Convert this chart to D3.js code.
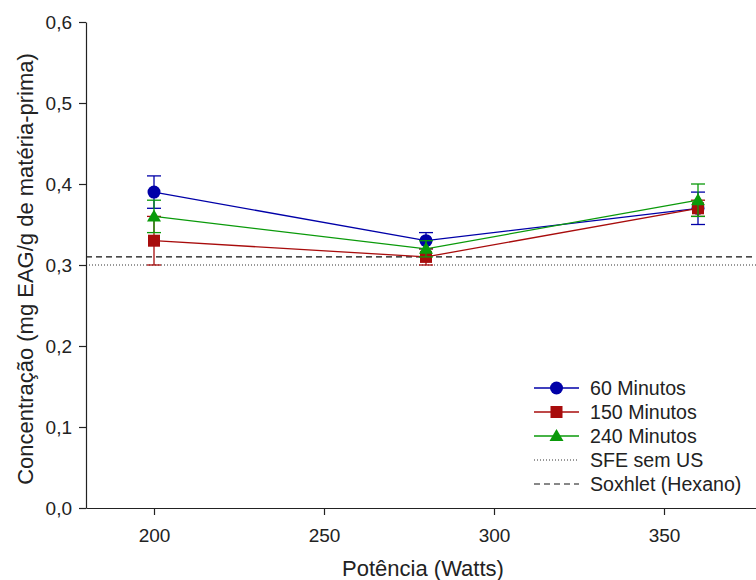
<!DOCTYPE html>
<html lang="pt">
<head>
<meta charset="UTF-8" />
<script src="https://d3js.org/d3.v7.min.js"></script>
<style>
    body { margin: 0; background: #fff; }
    svg { display: block; font-family: "Liberation Sans", Arial, sans-serif; }
    .axis text { font-size: 19px; fill: #222; }
    .axis path, .axis line { stroke: #222; stroke-width: 1.2px; }
</style>
</head>
<body>
<svg id="chart" width="756" height="580"></svg>
<script>
    // dados
    const potencias = [200, 280, 360];
    const seriesNames = ["60 Minutos", "150 Minutos", "240 Minutos"];
    const valores60 = [0.39, 0.33, 0.37];
    const erros60 = [0.02, 0.01, 0.02];
    const valores150 = [0.33, 0.31, 0.37];
    const erros150 = [0.03, 0.01, 0.01];
    const valores240 = [0.36, 0.32, 0.38];
    const erros240 = [0.02, 0.01, 0.02];
    const sfeSemUS = 0.30;
    const soxhlet = 0.31;
    const xTicks = [200, 250, 300, 350];
    const yTicks = [0, 0.1, 0.2, 0.3, 0.4, 0.5, 0.6];

    const svg = d3.select("#chart");

    const x = d3.scaleLinear().domain([180, 380]).range([86, 766]);
    const y = d3.scaleLinear().domain([0, 0.6]).range([508, 22]);

    const series = [
        { name: seriesNames[0], vals: valores60, errs: erros60, color: "#0000a8", shape: "circle" },
        { name: seriesNames[1], vals: valores150, errs: erros150, color: "#a80c0c", shape: "square" },
        { name: seriesNames[2], vals: valores240, errs: erros240, color: "#0a9a0a", shape: "triangle" }
    ];

    // linhas de referencia
    svg.append("line")
        .attr("x1", x(180)).attr("x2", 756)
        .attr("y1", y(sfeSemUS)).attr("y2", y(sfeSemUS))
        .attr("stroke", "#333").attr("stroke-width", 1)
        .attr("stroke-dasharray", "1,2");
    svg.append("line")
        .attr("x1", x(180)).attr("x2", 756)
        .attr("y1", y(soxhlet)).attr("y2", y(soxhlet))
        .attr("stroke", "#111").attr("stroke-width", 1.3)
        .attr("stroke-dasharray", "6,4");

    // eixos
    svg.append("g")
        .attr("class", "axis")
        .attr("transform", "translate(0,508)")
        .call(d3.axisBottom(x).tickValues(xTicks).tickSizeInner(7).tickSizeOuter(0).tickPadding(14).tickFormat(d3.format("d")));

    svg.append("g")
        .attr("class", "axis")
        .attr("transform", "translate(86,0)")
        .call(d3.axisLeft(y).tickValues(yTicks).tickSizeInner(7).tickSizeOuter(0).tickPadding(7)
            .tickFormat(d => d3.format(".1f")(d).replace(".", ",")));

    function drawMarker(g, shape, color, cx, cy) {
        if (shape === "circle") {
            g.append("circle").attr("cx", cx).attr("cy", cy).attr("r", 6.5).attr("fill", color);
        } else if (shape === "square") {
            g.append("rect").attr("x", cx - 6).attr("y", cy - 6).attr("width", 12).attr("height", 12).attr("fill", color);
        } else {
            g.append("path")
                .attr("d", `M${cx},${cy - 7}L${cx + 7},${cy + 5}L${cx - 7},${cy + 5}Z`)
                .attr("fill", color);
        }
    }

    const line = d3.line().x(d => x(d[0])).y(d => y(d[1]));

    series.forEach(s => {
        const g = svg.append("g");
        const pts = potencias.map((p, i) => [p, s.vals[i], s.errs[i]]);
        g.append("path")
            .attr("d", line(pts))
            .attr("fill", "none")
            .attr("stroke", s.color)
            .attr("stroke-width", 1.3);
        pts.forEach(d => {
            const cx = x(d[0]);
            g.append("line")
                .attr("x1", cx).attr("x2", cx)
                .attr("y1", y(d[1] - d[2])).attr("y2", y(d[1] + d[2]))
                .attr("stroke", s.color).attr("stroke-width", 1.3);
            [d[1] - d[2], d[1] + d[2]].forEach(v => {
                g.append("line")
                    .attr("x1", cx - 7).attr("x2", cx + 7)
                    .attr("y1", y(v)).attr("y2", y(v))
                    .attr("stroke", s.color).attr("stroke-width", 1.3);
            });
            drawMarker(g, s.shape, s.color, cx, y(d[1]));
        });
    });

    // legenda
    const legendItems = [
        { name: seriesNames[0], color: series[0].color, shape: "circle" },
        { name: seriesNames[1], color: series[1].color, shape: "square" },
        { name: seriesNames[2], color: series[2].color, shape: "triangle" },
        { name: "SFE sem US", color: "#333", dash: "1,2" },
        { name: "Soxhlet (Hexano)", color: "#111", dash: "6,4" }
    ];
    const legend = svg.append("g").attr("transform", "translate(534,388)");
    legendItems.forEach((item, i) => {
        const row = legend.append("g").attr("transform", `translate(0,${i * 24})`);
        row.append("line")
            .attr("x1", 0).attr("x2", 45).attr("y1", 0).attr("y2", 0)
            .attr("stroke", item.color)
            .attr("stroke-width", item.dash ? 1 : 1.3)
            .attr("stroke-dasharray", item.dash || null);
        if (item.shape) drawMarker(row, item.shape, item.color, 22.5, 0);
        row.append("text")
            .attr("x", 56).attr("y", 0).attr("dy", "0.35em")
            .attr("font-size", 19.6).attr("fill", "#222")
            .text(item.name);
    });

    // titulos dos eixos
    svg.append("text")
        .attr("x", 423).attr("y", 576)
        .attr("text-anchor", "middle")
        .attr("font-size", 22).attr("fill", "#222")
        .text("Potência (Watts)");
    svg.append("text")
        .attr("transform", "translate(33,269) rotate(-90)")
        .attr("text-anchor", "middle")
        .attr("font-size", 22).attr("fill", "#222")
        .text("Concentração (mg EAG/g de matéria-prima)");
</script>
</body>
</html>
